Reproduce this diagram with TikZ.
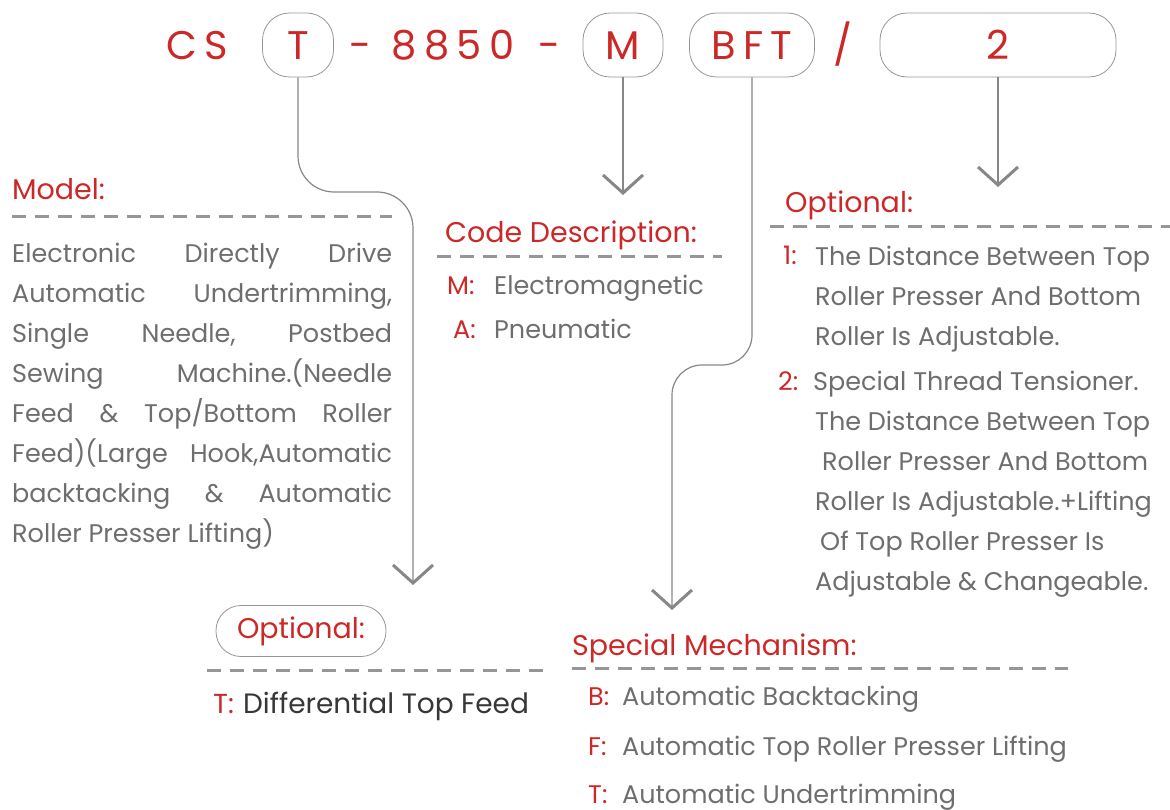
\documentclass[tikz,border=0pt]{standalone}
\usepackage{fontspec}
\setmainfont{Poppins}
\newfontfamily\codefam[LetterSpace=18]{Poppins}
\usetikzlibrary{arrows.meta}

\definecolor{codered}{RGB}{204,40,40}
\definecolor{textgray}{RGB}{110,110,110}
\definecolor{darkgray}{RGB}{55,55,55}
\definecolor{linegray}{RGB}{135,135,135}
\definecolor{rulegray}{RGB}{150,150,150}

\newcommand{\codefont}{\codefam\fontsize{40}{40}\selectfont}
\newcommand{\headfont}{\fontsize{28.5}{40}\selectfont}
\newcommand{\bodyfont}{\fontsize{25.5}{40}\selectfont}
\newcommand{\fullline}[1]{\hbox to 380pt{#1}}

\begin{document}
\begin{tikzpicture}[x=1pt,y=-1pt]
    % Define styles
    \tikzstyle{codetxt} = [text=codered, font=\codefont, inner sep=0pt, text height=29pt, text depth=0pt]
    \tikzstyle{codebox} = [codetxt, draw=rulegray, line width=0.8pt, rounded corners=27pt, minimum height=64pt]
    \tikzstyle{headtxt} = [text=codered, font=\headfont, anchor=base west, inner sep=0pt]
    \tikzstyle{itemtxt} = [text=textgray, font=\bodyfont, anchor=base west, inner sep=0pt]
    \tikzstyle{keytxt} = [text=codered, font=\bodyfont, anchor=base west, inner sep=0pt]
    \tikzstyle{dashrule} = [draw=rulegray, line width=3pt, dash pattern=on 14pt off 9pt]
    \tikzstyle{linkline} = [draw=linegray, line width=1.2pt, -{Straight Barb[length=18pt, width=40pt, line width=3pt]}]

    \useasboundingbox (0,0) rectangle (1170,810);

    % Model code
    \node[codetxt] (cs) at (197,45) {CS};
    \node[codebox, minimum width=71pt] (tbox) at (298,45) {T};
    \node[codetxt] (dash1) at (361,45) {-};
    \node[codetxt] (num) at (453,45) {8850};
    \node[codetxt] (dash2) at (550,45) {-};
    \node[codebox, minimum width=80pt] (mbox) at (623,45) {M};
    \node[codebox, minimum width=125pt] (bftbox) at (752,45) {BFT};
    \node[codetxt] (slash) at (843,45) {/};
    \node[codebox, minimum width=236pt] (twobox) at (998,45) {2};

    % Arrow ends
    \coordinate (tend) at (413,585);
    \coordinate (mend) at (623,195);
    \coordinate (bftend) at (672,610);
    \coordinate (twoend) at (998,187);

    % Connectors
    \draw[linkline, rounded corners=36pt] (tbox.south) |- (413,192) -- (tend);
    \draw[linkline] (mbox.south) -- (mend);
    \draw[linkline, rounded corners=30pt] (bftbox.south) |- (672,365) -- (bftend);
    \draw[linkline] (twobox.south) -- (twoend);

    % Model
    \node[headtxt] (model) at (12,200) {Model:};
    \draw[dashrule] (12,217) -- (392,217);
    \node[itemtxt, align=left] (modeltxt) at (12,542) {%
        \fullline{Electronic\hfill Directly\hfill Drive}\\
        \fullline{Automatic\hfill Undertrimming,}\\
        \fullline{Single\hfill Needle,\hfill Postbed}\\
        \fullline{Sewing\hfill Machine.(Needle}\\
        \fullline{Feed\hfill \&\hfill Top/Bottom\hfill Roller}\\
        \fullline{Feed)(Large\hfill Hook,Automatic}\\
        \fullline{backtacking\hfill \&\hfill Automatic}\\
        Roller Presser Lifting)};

    % Code description
    \node[headtxt] (codedesc) at (445,243) {Code Description:};
    \draw[dashrule] (437,257) -- (722,257);
    \node[keytxt] (mkey) at (447,295) {M:};
    \node[itemtxt] (mtxt) at (494,295) {Electromagnetic};
    \node[keytxt] (akey) at (453,338) {A:};
    \node[itemtxt] (atxt) at (494,338) {Pneumatic};

    % Optional (right)
    \node[headtxt] (optright) at (785,213) {Optional:};
    \draw[dashrule] (770,227) -- (1170,227);
    \node[keytxt] (onekey) at (783,265) {1:};
    \node[itemtxt, align=left] (onetxt) at (815,345) {The Distance Between Top\\
        Roller Presser And Bottom\\
        Roller Is Adjustable.};
    \node[keytxt] (twokey) at (778,390) {2:};
    \node[itemtxt, align=left] (twotxt) at (813,590) {Special Thread Tensioner.\\
        \hspace*{2pt}The Distance Between Top\\
        \hspace*{9pt}Roller Presser And Bottom\\
        \hspace*{2pt}Roller Is Adjustable.+Lifting\\
        \hspace*{7pt}Of Top Roller Presser Is\\
        \hspace*{2pt}Adjustable \& Changeable.};

    % Optional (bottom left)
    \node[text=codered, font=\headfont, draw=rulegray, line width=0.8pt, rounded corners=25pt, minimum width=170pt, minimum height=51pt, inner sep=0pt] (optleft) at (301,631) {Optional:};
    \draw[dashrule] (207,670) -- (545,670);
    \node[keytxt, font=\fontsize{27.5}{40}\selectfont] (tkey) at (213,713) {T:};
    \node[itemtxt, text=darkgray, font=\fontsize{28}{40}\selectfont] (ttxt) at (243,713) {Differential Top Feed};

    % Special mechanism
    \node[headtxt] (special) at (572,655) {Special Mechanism:};
    \draw[dashrule] (572,668) -- (1068,668);
    \node[keytxt] (bkey) at (588,705) {B:};
    \node[itemtxt] (btxt) at (622,705) {Automatic Backtacking};
    \node[keytxt] (fkey) at (588,755) {F:};
    \node[itemtxt] (ftxt) at (622,755) {Automatic Top Roller Presser Lifting};
    \node[keytxt] (tkey2) at (588,803) {T:};
    \node[itemtxt] (ttxt2) at (622,803) {Automatic Undertrimming};

\end{tikzpicture}
\end{document}
